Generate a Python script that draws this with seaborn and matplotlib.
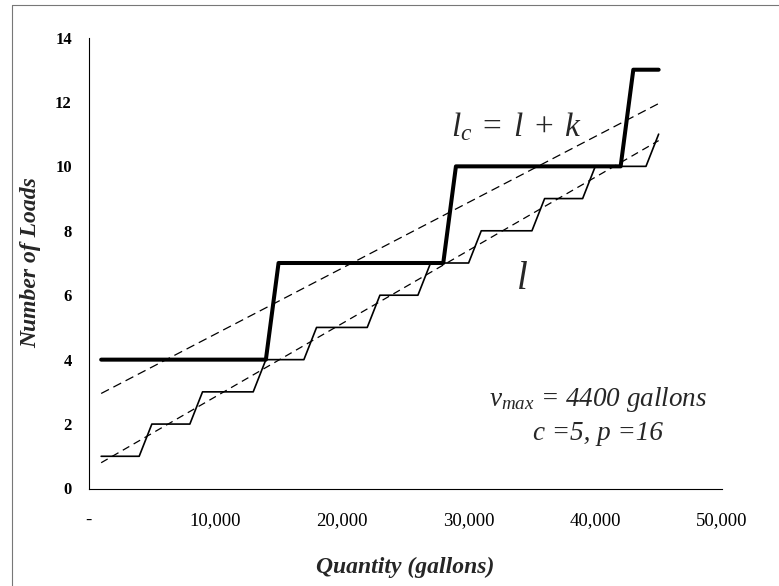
import matplotlib
matplotlib.use("Agg")
import matplotlib.pyplot as plt
from matplotlib.lines import Line2D
import seaborn as sns
import pandas as pd

# ---- data ----
quantity = [1000, 2000, 3000, 4000, 5000, 6000, 7000, 8000, 9000, 10000,
            11000, 12000, 13000, 14000, 15000, 16000, 17000, 18000, 19000, 20000,
            21000, 22000, 23000, 24000, 25000, 26000, 27000, 28000, 29000, 30000,
            31000, 32000, 33000, 34000, 35000, 36000, 37000, 38000, 39000, 40000,
            41000, 42000, 43000, 44000, 45000]
loads_l = [1, 1, 1, 1, 2, 2, 2, 2, 3, 3,
           3, 3, 3, 4, 4, 4, 4, 5, 5, 5,
           5, 5, 6, 6, 6, 6, 7, 7, 7, 7,
           8, 8, 8, 8, 8, 9, 9, 9, 9, 10,
           10, 10, 10, 10, 11]
loads_lc = [4, 4, 4, 4, 4, 4, 4, 4, 4, 4,
            4, 4, 4, 4, 7, 7, 7, 7, 7, 7,
            7, 7, 7, 7, 7, 7, 7, 7, 10, 10,
            10, 10, 10, 10, 10, 10, 10, 10, 10, 10,
            10, 10, 13, 13, 13]
trend_x = [1000, 45000]
trend_l = [0.8, 10.8]
trend_lc = [2.95, 11.95]

x_ticks = [0, 10000, 20000, 30000, 40000, 50000]
x_ticklabels = ["-", "10,000", "20,000", "30,000", "40,000", "50,000"]
y_ticks = [0, 2, 4, 6, 8, 10, 12, 14]

sns.set_style("white")
plt.rcParams["font.family"] = ["Liberation Serif", "DejaVu Serif"]
plt.rcParams["mathtext.fontset"] = "custom"
plt.rcParams["mathtext.it"] = "Liberation Serif:italic"
plt.rcParams["mathtext.rm"] = "Liberation Serif"
plt.rcParams["mathtext.bf"] = "Liberation Serif:bold"

df_l = pd.DataFrame({"q": quantity, "v": loads_l})
df_lc = pd.DataFrame({"q": quantity, "v": loads_lc})
df_tl = pd.DataFrame({"q": trend_x, "v": trend_l})
df_tlc = pd.DataFrame({"q": trend_x, "v": trend_lc})

fig = plt.figure(figsize=(7.79, 5.86), dpi=100)
ax = fig.add_axes([88.5 / 779, 1 - 488.5 / 586, (722 - 88.5) / 779, (488.5 - 37.5) / 586])

sns.lineplot(data=df_tl, x="q", y="v", ax=ax, color="black", linewidth=0.9,
             linestyle=(0, (6, 4)))
sns.lineplot(data=df_tlc, x="q", y="v", ax=ax, color="black", linewidth=0.9,
             linestyle=(0, (7, 4)))
sns.lineplot(data=df_l, x="q", y="v", ax=ax, color="black", linewidth=1.2)
sns.lineplot(data=df_lc, x="q", y="v", ax=ax, color="black", linewidth=2.9)

ax.set_xlim(0, 50000)
ax.set_ylim(0, 14)
ax.set_xticks(x_ticks)
ax.set_xticklabels(x_ticklabels, fontsize=13.5)
ax.set_yticks(y_ticks)
ax.set_yticklabels([str(v) for v in y_ticks], fontsize=12, fontweight="bold")
ax.tick_params(axis="x", direction="out", length=4, width=0.8, pad=13, colors="black")
ax.tick_params(axis="y", direction="out", length=4, width=0.8, pad=8, colors="black")
for side in ["top", "right"]:
    ax.spines[side].set_visible(False)
for side in ["left", "bottom"]:
    ax.spines[side].set_color("black")
    ax.spines[side].set_linewidth(0.8)

ax.set_xlabel("Quantity (gallons)", fontsize=17, fontweight="bold", fontstyle="italic",
              labelpad=20)
ax.set_ylabel("Number of Loads", fontsize=17, fontweight="bold", fontstyle="italic",
              labelpad=10)

ax.text(33740, 10.95, r"$l_c \;=\; l \;+\; k$", fontsize=24, ha="center", va="baseline")
ax.text(34240, 6.2, r"$l$", fontsize=28, ha="center", va="baseline")
ax.text(40230, 2.57, r"$v_{max}$" + " = 4400 gallons", fontsize=19.5, ha="center",
        va="baseline", fontstyle="italic")
ax.text(40230, 1.52, "c =5, p =16", fontsize=19.5, ha="center", va="baseline",
        fontstyle="italic")

# outer chart border (top and left edges visible in the reference)
fig.add_artist(Line2D([12 / 779, 1], [1 - 5 / 586, 1 - 5 / 586], transform=fig.transFigure,
                      color="#777777", linewidth=0.8))
fig.add_artist(Line2D([12 / 779, 12 / 779], [0, 1 - 5 / 586], transform=fig.transFigure,
                      color="#777777", linewidth=0.8))

fig.savefig("out.png", dpi=100)
